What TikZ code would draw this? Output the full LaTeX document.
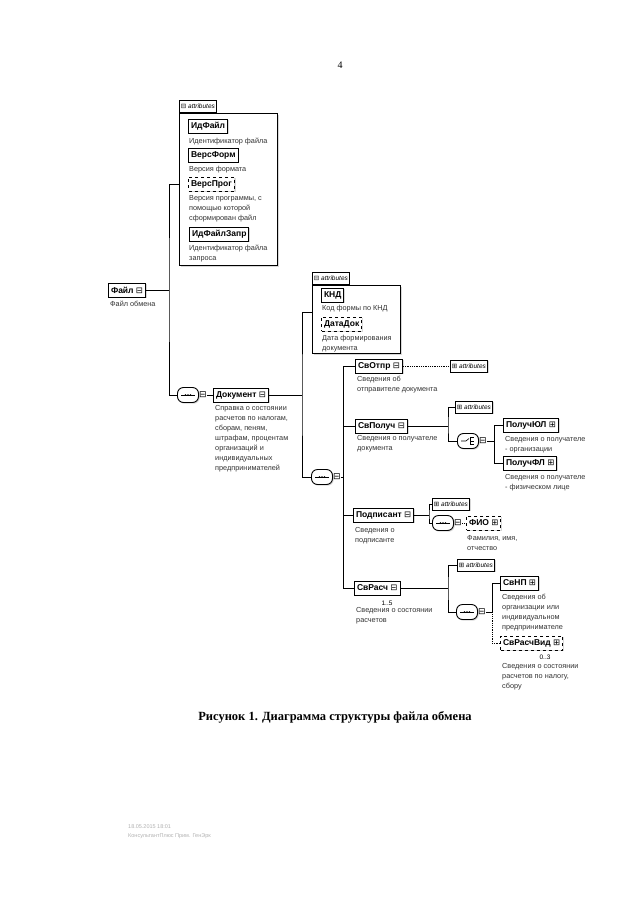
\documentclass[tikz,border=0pt]{standalone}
\usepackage{fontspec}
\setmainfont{Liberation Serif}
\setsansfont{Liberation Sans}
\newfontfamily\symfont{DejaVu Sans}
\usetikzlibrary{shadows}

\newcommand{\xsminus}{{\symfont\mdseries ⊟}}
\newcommand{\xsplus}{{\symfont\mdseries ⊞}}

\begin{document}
\begin{tikzpicture}[
  x=1pt, y=-1pt,
  font=\sffamily,
  shade/.style={drop shadow={shadow xshift=1.2pt, shadow yshift=-1.2pt, fill=black!30}},
  elem/.style={draw, line width=1pt, fill=white, anchor=west, inner xsep=2.5pt, inner ysep=0pt,
    minimum height=14pt, font=\sffamily\bfseries\fontsize{8.5}{9}\selectfont, shade},
  optelem/.style={elem, dashed},
  desc/.style={anchor=north west, align=left, inner sep=0pt, text=black!80,
    font=\sffamily\fontsize{7.3}{10}\selectfont},
  attrframe/.style={draw, line width=0.8pt, fill=white, anchor=north west, shade},
  attrtab/.style={draw, line width=0.8pt, fill=white, anchor=south west, inner xsep=1.5pt, inner ysep=0pt,
    minimum height=12pt, font=\sffamily\itshape\fontsize{6.5}{7}\selectfont},
  attrbox/.style={attrtab, anchor=west, shade},
  comp/.style={draw, line width=0.9pt, fill=white, rounded corners=6pt, minimum width=21pt,
    minimum height=15pt, shade},
  compbox/.style={inner sep=0pt, font=\fontsize{9}{9}\selectfont},
  card/.style={inner sep=0pt, font=\sffamily\fontsize{6.5}{7}\selectfont},
  conn/.style={line width=1pt},
  optconn/.style={line width=0.8pt, densely dotted}
]
\fill[white] (0,0) rectangle (640,905);
\useasboundingbox (0,0) rectangle (640,905);

\node[font=\rmfamily\fontsize{10}{12}\selectfont] (pnum) at (340,65) {4};

% root element and its attributes
\node[attrframe, minimum width=98pt, minimum height=152pt] (fileattr) at (179,113) {};
\node[attrtab] (fileattrtab) at (fileattr.north west) {\xsminus\ attributes};

\node[elem] (idfile) at (188,126) {ИдФайл};
\node[desc] (idfiled) at (189,138) {Идентификатор файла};
\node[elem] (versform) at (188,155) {ВерсФорм};
\node[desc] (versformd) at (189,166) {Версия формата};
\node[optelem] (versprog) at (188,184) {ВерсПрог};
\node[desc] (versprogd) at (189,195) {Версия программы, с\\помощью которой\\сформирован файл};
\node[elem] (idfilezapr) at (189,234) {ИдФайлЗапр};
\node[desc] (idfilezaprd) at (189,245) {Идентификатор файла\\запроса};

\node[elem] (file) at (108,290) {Файл \xsminus};
\node[desc] (filed) at (110,301) {Файл обмена};

\node[comp] (seq1) at (188,395) {};
\node[compbox] (seq1b) at (203,395) {\xsminus};
\node[elem] (doc) at (213,395) {Документ \xsminus};
\node[desc] (docd) at (215,405) {Справка о состоянии\\расчетов по налогам,\\сборам, пеням,\\штрафам, процентам\\организаций и\\индивидуальных\\предпринимателей};

\coordinate (j1) at (169,290);
\draw[conn] (file.east) -- (j1);
\draw[conn] ([yshift=5pt]fileattr.west) -| (j1) |- (seq1.west);
\draw[conn] (seq1b.east) -- (doc.west);

% document and its attributes
\node[attrframe, minimum width=88pt, minimum height=68pt] (docattr) at (312,285) {};
\node[attrtab] (docattrtab) at (docattr.north west) {\xsminus\ attributes};
\node[elem] (knd) at (321,295) {КНД};
\node[desc] (kndd) at (322,305) {Код формы по КНД};
\node[optelem] (datadok) at (321,324) {ДатаДок};
\node[desc] (datadokd) at (322,335) {Дата формирования\\документа};

\node[comp] (seq2) at (322,477) {};
\node[compbox] (seq2b) at (337,477) {\xsminus};

\coordinate (j2) at (302,395);
\draw[conn] (doc.east) -- (j2);
\draw[conn] ([yshift=7pt]docattr.west) -| (j2) |- (seq2.west);

% children of the document
\node[elem] (svotpr) at (355,366) {СвОтпр \xsminus};
\node[desc] (svotprd) at (357,376) {Сведения об\\отправителе документа};
\node[attrbox] (svotpra) at (450,366) {\xsplus\ attributes};

\node[elem] (svpoluch) at (355,426) {СвПолуч \xsminus};
\node[desc] (svpoluchd) at (357,435) {Сведения о получателе\\документа};
\node[attrbox] (svpolucha) at (455,407) {\xsplus\ attributes};
\node[comp] (ch1) at (468,441) {};
\node[compbox] (ch1b) at (483,441) {\xsminus};
\node[elem] (poljul) at (503,425) {ПолучЮЛ \xsplus};
\node[desc] (poljuld) at (505,436) {Сведения о получателе\\- организации};
\node[elem] (polfl) at (503,463) {ПолучФЛ \xsplus};
\node[desc] (polfld) at (505,474) {Сведения о получателе\\- физическом лице};

\node[elem] (podp) at (353,515) {Подписант \xsminus};
\node[desc] (podpd) at (355,527) {Сведения о\\подписанте};
\node[attrbox] (podpa) at (432,504) {\xsplus\ attributes};
\node[comp] (seq3) at (443,523) {};
\node[compbox] (seq3b) at (458,523) {\xsminus};
\node[optelem] (fio) at (466,523) {ФИО \xsplus};
\node[desc] (fiod) at (467,535) {Фамилия, имя,\\отчество};

\node[elem] (svrasch) at (354,588) {СвРасч \xsminus};
\node[card] (svraschc) at (387,603) {1..5};
\node[desc] (svraschd) at (356,607) {Сведения о состоянии\\расчетов};
\node[attrbox] (svrascha) at (457,565) {\xsplus\ attributes};
\node[comp] (seq4) at (467,612) {};
\node[compbox] (seq4b) at (482,612) {\xsminus};
\node[elem] (svnp) at (500,583) {СвНП \xsplus};
\node[desc] (svnpd) at (502,594) {Сведения об\\организации или\\индивидуальном\\предпринимателе};
\node[optelem] (svraschvid) at (500,643) {СвРасчВид \xsplus};
\node[card] (svraschvidc) at (545,657) {0..3};
\node[desc] (svraschvidd) at (502,663) {Сведения о состоянии\\расчетов по налогу,\\сбору};

\coordinate (j3) at (343,477);
\draw[conn] (seq2b.east) -- (j3);
\draw[conn] (svotpr.west) -| (j3);
\draw[conn] (svpoluch.west) -| (j3);
\draw[conn] (podp.west) -| (j3);
\draw[conn] (svrasch.west) -| (j3);

\draw[optconn] (svotpr.east) -- (svotpra.west);

\coordinate (j4) at (448,426);
\draw[conn] (svpoluch.east) -- (j4);
\draw[conn] (svpolucha.west) -| (j4) |- (ch1.west);
\coordinate (j5) at (494,441);
\draw[conn] (ch1b.east) -- (j5);
\draw[conn] (poljul.west) -| (j5);
\draw[conn] (polfl.west) -| (j5);

\coordinate (j6) at (429,515);
\draw[conn] (podp.east) -- (j6);
\draw[conn] (podpa.west) -| (j6) |- (seq3.west);
\draw[optconn] (seq3b.east) -- (fio.west);

\coordinate (j7) at (448,588);
\draw[conn] (svrasch.east) -- (j7);
\draw[conn] (svrascha.west) -| (j7) |- (seq4.west);
\coordinate (j8) at (492,612);
\draw[conn] (seq4b.east) -- (j8);
\draw[conn] (svnp.west) -| (j8);
\draw[optconn] (svraschvid.west) -| (j8);

% compositor symbols
\foreach \c in {seq1,seq2,seq3,seq4} {
  \draw[line width=0.6pt] ([xshift=-7pt]\c.center) -- ([xshift=7pt]\c.center);
  \foreach \d in {-2.5,0,2.5}
    \fill ([xshift=\d pt]\c.center) circle (0.9);
}
\draw[line width=0.6pt] ([xshift=-7pt]ch1.center) -- ([xshift=-2pt]ch1.center)
  -- ([xshift=1pt,yshift=2.5pt]ch1.center);
\draw[line width=0.6pt] ([xshift=2pt,yshift=3.5pt]ch1.center) -- ([xshift=2pt,yshift=-3.5pt]ch1.center);
\foreach \d in {3.5,0,-3.5}
  \draw[line width=0.6pt] ([xshift=2pt,yshift=\d pt]ch1.center) -- ([xshift=6pt,yshift=\d pt]ch1.center);

\node[font=\rmfamily\bfseries\fontsize{12.5}{14}\selectfont] (caption) at (335,717)
  {Рисунок 1. Диаграмма структуры файла обмена};

\node[anchor=west, inner sep=0pt, text=black!30, font=\sffamily\fontsize{5.5}{6}\selectfont] (stamp) at (128,827) {18.05.2015 18:01};
\node[anchor=west, inner sep=0pt, text=black!30, font=\sffamily\fontsize{5.5}{6}\selectfont] (stamp2) at (128,836) {КонсультантПлюс Прим. ГенЭрк};
\end{tikzpicture}
\end{document}
